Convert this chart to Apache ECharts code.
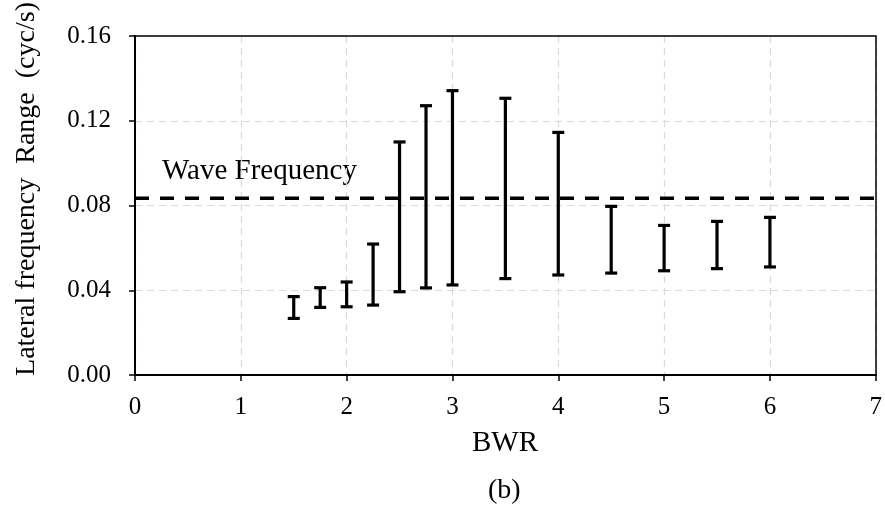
<!DOCTYPE html>
<html>
<head>
<meta charset="utf-8">
<script src="https://cdn.jsdelivr.net/npm/echarts@6/dist/echarts.min.js"></script>
<style>
html,body{margin:0;padding:0;background:#fff;}
#chart{width:885px;height:512px;}
</style>
</head>
<body>
<div id="chart"></div>
<script>
const bwr = [1.5, 1.75, 2, 2.25, 2.5, 2.75, 3, 3.5, 4, 4.5, 5, 5.5, 6];
const freqLow = [0.0267, 0.0319, 0.0322, 0.0330, 0.0393, 0.0411, 0.0425, 0.0455, 0.0472, 0.0481, 0.0492, 0.0502, 0.0510];
const freqHigh = [0.0370, 0.0412, 0.0439, 0.0618, 0.1100, 0.1271, 0.1342, 0.1306, 0.1145, 0.0796, 0.0706, 0.0725, 0.0744];
const waveFrequency = 0.0834;
const waveLineX = [0, 7];
const xTicks = [0, 1, 2, 3, 4, 5, 6, 7];
const yTicks = [0.00, 0.04, 0.08, 0.12, 0.16];

const FONT = '"Liberation Serif", "Times New Roman", serif';
const chart = echarts.init(document.getElementById('chart'), null, {renderer: 'canvas'});

const barData = bwr.map((x, i) => [x, freqLow[i], freqHigh[i]]);
const frameAxis = {
  axisLine: {show: true, onZero: false, lineStyle: {color: '#000', width: 1.5}},
  axisTick: {show: false}, axisLabel: {show: false}, splitLine: {show: false}
};

const option = {
  animation: false,
  backgroundColor: '#ffffff',
  grid: {left: 135, top: 36, right: 7, bottom: 137},
  xAxis: [{
    type: 'value', min: 0, max: 7, interval: 1,
    axisLine: {show: true, onZero: false, lineStyle: {color: '#000', width: 2}},
    axisTick: {show: true, length: 6, lineStyle: {color: '#000', width: 1.5}},
    axisLabel: {color: '#000', fontFamily: FONT, fontSize: 25, margin: 20,
      formatter: v => xTicks.includes(v) ? String(v) : ''},
    splitLine: {show: true, lineStyle: {color: '#d9d9d9', type: [7, 5], width: 1.2}}
  }, Object.assign({type: 'value', position: 'top', min: 0, max: 7, z: 5}, frameAxis)],
  yAxis: [{
    type: 'value', min: 0, max: 0.16, interval: 0.04,
    axisLine: {show: true, lineStyle: {color: '#000', width: 2}},
    axisTick: {show: true, length: 6, lineStyle: {color: '#000', width: 1.5}},
    axisLabel: {color: '#000', fontFamily: FONT, fontSize: 25, margin: 24,
      formatter: v => yTicks.find(t => Math.abs(t - v) < 1e-9) !== undefined ? v.toFixed(2) : ''},
    splitLine: {show: true, lineStyle: {color: '#d9d9d9', type: [7, 5], width: 1.2}}
  }, Object.assign({type: 'value', position: 'right', min: 0, max: 0.16, z: 5}, frameAxis)],
  series: [
    {
      type: 'line',
      data: waveLineX.map(x => [x, waveFrequency]),
      symbol: 'none',
      lineStyle: {color: '#000', width: 3.5, type: [14, 11]},
      z: 3
    },
    {
      type: 'custom',
      data: barData,
      z: 4,
      renderItem: function (params, api) {
        const x = api.value(0);
        const lo = api.coord([x, api.value(1)]);
        const hi = api.coord([x, api.value(2)]);
        const half = 6;
        const style = {stroke: '#000', lineWidth: 3.2, fill: null};
        return {
          type: 'group',
          children: [
            {type: 'line', shape: {x1: lo[0], y1: lo[1], x2: hi[0], y2: hi[1]}, style: style},
            {type: 'line', shape: {x1: lo[0] - half, y1: lo[1], x2: lo[0] + half, y2: lo[1]}, style: style},
            {type: 'line', shape: {x1: hi[0] - half, y1: hi[1], x2: hi[0] + half, y2: hi[1]}, style: style}
          ]
        };
      }
    }
  ],
  graphic: [
    {type: 'text', left: 162, top: 157, style: {text: 'Wave Frequency', fill: '#000', font: '29px ' + FONT}},
    {type: 'text', left: 472, top: 429, style: {text: 'BWR', fill: '#000', font: '29px ' + FONT}},
    {type: 'text', left: 488, top: 477, style: {text: '(b)', fill: '#000', font: '28px ' + FONT}},
    {type: 'text', x: 27, y: 189, rotation: Math.PI / 2,
      style: {text: 'Lateral frequency  Range  (cyc/s)', fill: '#000', font: '28px ' + FONT,
        textAlign: 'center', textVerticalAlign: 'middle'}}
  ]
};
chart.setOption(option);
</script>
</body>
</html>
